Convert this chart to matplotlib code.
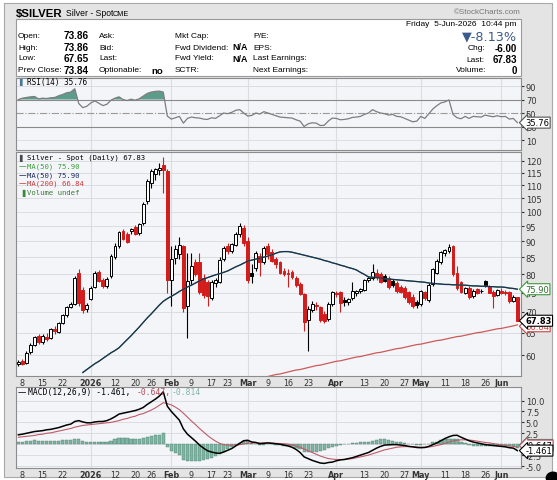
import numpy as np
import pandas as pd
import matplotlib
matplotlib.use("Agg")
import matplotlib.pyplot as plt
from matplotlib.patches import Rectangle
from matplotlib.ticker import NullLocator

## Données
holidays = ["2025-12-25", "2026-01-01", "2026-01-19", "2026-02-16", "2026-04-03", "2026-05-25"]
days = pd.bdate_range("2025-12-05", "2026-06-05")
days = days[~days.isin(pd.to_datetime(holidays))]

opens = [58.2, 58.8, 58.3, 60.6, 62.3, 64.2, 62.9, 64.0, 63.8, 65.8, 65.2, 67.3, 69.2, 71.2, 72.0, 80.5, 75.6, 70.8,
         73.4, 76.6, 80.7, 78.3, 76.9, 79.5, 85.0, 88.6, 93.2, 92.3, 93.5, 94.7, 92.6, 96.0, 104.0, 111.0, 114.5, 116.0,
         118.0, 115.5, 78.5, 84.8, 86.0, 88.5, 71.5, 78.3, 83.5, 83.5, 79.0, 77.8, 73.6, 77.6, 78.0, 84.5, 88.5, 87.0,
         89.0, 92.5, 94.5, 90.0, 80.5, 82.0, 85.5, 83.5, 88.5, 86.5, 84.5, 83.5, 81.0, 80.5, 80.6, 79.0, 77.2, 74.5,
         68.0, 70.5, 71.8, 71.2, 69.5, 68.2, 72.0, 74.8, 75.0, 73.0, 72.6, 73.5, 75.0, 75.4, 75.8, 78.3, 79.0, 80.5,
         80.0, 79.5, 79.0, 78.2, 77.5, 76.5, 76.2, 75.0, 73.8, 72.5, 72.0, 75.0, 73.0, 77.2, 80.5, 83.5, 86.5, 87.0,
         88.5, 80.5, 77.8, 75.0, 76.2, 74.0, 75.8, 75.5, 78.0, 76.8, 75.0, 74.3, 75.5, 75.2, 75.0, 72.9, 73.86]
highs = [59.0, 59.2, 60.8, 62.6, 64.3, 64.8, 64.6, 65.0, 66.2, 66.5, 67.5, 69.5, 71.5, 72.4, 79.5, 81.5, 76.5, 72.3,
         76.8, 81.0, 81.2, 78.9, 79.2, 86.0, 89.5, 93.5, 94.0, 93.0, 94.5, 95.5, 96.0, 103.5, 112.5, 116.5, 117.0, 119.0,
         121.7, 116.5, 88.5, 89.0, 91.5, 89.0, 86.5, 86.5, 84.5, 86.5, 80.0, 78.5, 78.5, 79.0, 85.0, 88.5, 89.5, 89.5,
         93.0, 96.0, 95.5, 91.5, 83.0, 87.0, 86.5, 88.5, 89.5, 87.5, 85.0, 84.0, 82.0, 81.5, 81.2, 79.5, 78.0, 75.0,
         71.5, 72.8, 72.5, 71.6, 70.2, 72.5, 75.5, 75.5, 75.5, 73.8, 73.6, 78.0, 75.8, 76.2, 78.8, 79.5, 83.0, 81.5,
         80.8, 80.0, 79.5, 78.8, 78.2, 77.0, 76.8, 75.5, 74.5, 73.0, 75.8, 75.5, 77.5, 82.0, 84.5, 87.0, 87.5, 89.3,
         89.0, 82.5, 78.2, 76.6, 76.8, 76.0, 76.2, 76.0, 78.4, 77.0, 75.6, 76.0, 76.2, 75.6, 75.3, 74.3, 73.86]
lows = [57.8, 57.9, 58.1, 60.2, 62.0, 62.4, 62.5, 63.2, 63.5, 64.8, 65.0, 67.0, 68.8, 70.9, 71.8, 71.5, 69.8, 70.0,
        73.0, 76.2, 77.8, 76.2, 76.3, 79.0, 84.6, 88.0, 90.4, 89.5, 92.5, 92.0, 92.0, 95.5, 103.0, 109.0, 112.0, 114.0,
        107.0, 75.0, 71.5, 83.0, 84.5, 70.0, 63.8, 77.0, 79.5, 74.5, 73.5, 71.5, 73.0, 76.5, 77.5, 84.0, 86.0, 86.5,
        88.5, 91.5, 88.5, 77.5, 77.5, 81.0, 79.7, 83.0, 84.5, 83.5, 82.0, 80.0, 79.5, 76.5, 78.8, 76.5, 74.3, 65.5,
        61.0, 70.0, 70.5, 67.5, 67.2, 67.8, 71.5, 73.8, 70.0, 71.5, 71.8, 73.0, 74.2, 74.8, 75.5, 77.8, 78.5, 78.5,
        77.5, 77.8, 76.0, 76.5, 75.0, 74.8, 73.2, 72.0, 71.0, 71.0, 71.6, 73.0, 72.5, 76.8, 80.0, 83.0, 85.5, 86.5,
        79.5, 75.8, 74.8, 74.5, 73.3, 73.5, 74.6, 74.8, 76.6, 74.8, 71.0, 74.0, 74.6, 74.3, 72.3, 72.6, 67.65]
closes = [58.6, 58.2, 60.5, 62.2, 63.9, 62.9, 64.3, 63.6, 65.9, 65.3, 67.2, 69.1, 71.1, 71.9, 79.0, 72.2, 70.5, 71.8,
          76.3, 80.5, 78.2, 76.8, 78.8, 85.5, 88.6, 93.0, 90.8, 89.9, 94.0, 92.4, 95.8, 102.8, 111.7, 115.7, 116.5, 117.0,
          116.0, 78.5, 84.5, 87.5, 88.8, 71.0, 78.0, 82.5, 80.2, 75.2, 74.3, 74.0, 77.8, 78.4, 84.2, 87.8, 87.0, 89.0,
          92.5, 95.0, 89.5, 78.5, 79.5, 86.3, 83.5, 87.8, 86.0, 84.0, 83.0, 80.5, 80.2, 80.0, 79.2, 77.0, 74.6, 67.6,
          70.8, 71.9, 71.5, 67.9, 67.8, 72.0, 75.0, 74.6, 72.3, 72.6, 73.2, 75.3, 75.4, 75.8, 78.4, 79.0, 80.7, 79.2,
          77.8, 78.2, 76.5, 77.0, 75.4, 75.2, 73.8, 72.5, 71.5, 71.8, 75.4, 73.6, 77.0, 81.5, 84.0, 86.5, 87.2, 88.3,
          80.0, 76.2, 75.2, 76.3, 73.8, 75.5, 75.0, 75.3, 77.0, 75.0, 74.2, 75.6, 75.0, 74.8, 72.8, 73.84, 67.83]

ma50_start = 16
ma50 = [56.4, 57.0, 57.6, 58.2, 58.7, 59.3, 59.9, 60.5, 61.0, 61.6, 62.5, 63.4, 64.3, 65.3, 66.3, 67.4, 68.5, 69.5,
        70.6, 71.7, 72.7, 73.4, 74.0, 74.6, 75.3, 75.9, 76.5, 77.0, 77.6, 78.2, 78.7, 79.1, 79.5, 79.9, 80.2, 80.6,
        81.0, 81.6, 82.2, 82.7, 83.3, 83.9, 84.2, 84.5, 84.8, 85.1, 85.4, 85.8, 86.3, 86.7, 86.8, 86.8, 86.6, 86.3,
        86.0, 85.7, 85.4, 85.1, 84.8, 84.5, 84.1, 83.8, 83.4, 83.1, 82.7, 82.4, 82.0, 81.7, 81.3, 80.6, 80.0, 79.3,
        79.2, 79.1, 79.0, 78.8, 78.7, 78.6, 78.5, 78.4, 78.3, 78.2, 78.1, 78.0, 77.9, 77.8, 77.6, 77.5, 77.4, 77.3,
        77.2, 77.2, 77.1, 77.1, 77.0, 77.0, 76.9, 76.8, 76.8, 76.7, 76.7, 76.6, 76.6, 76.5, 76.5, 76.4, 76.2, 76.1, 75.9]
ma200_start = 62
ma200 = [55.6, 55.8, 56.0, 56.1, 56.3, 56.5, 56.7, 56.9, 57.0, 57.2, 57.4, 57.6, 57.8, 57.9, 58.1, 58.3, 58.5, 58.7,
         58.8, 59.0, 59.2, 59.4, 59.6, 59.7, 59.9, 60.1, 60.3, 60.5, 60.6, 60.8, 61.0, 61.2, 61.4, 61.5, 61.7, 61.9,
         62.1, 62.3, 62.4, 62.6, 62.8, 63.0, 63.2, 63.3, 63.5, 63.7, 63.9, 64.1, 64.2, 64.4, 64.6, 64.8, 65.0, 65.1,
         65.3, 65.5, 65.7, 65.9, 66.0, 66.2, 66.4, 66.6, 66.84]

rsi = [70, 72, 73, 74, 74.5, 71, 72, 71.5, 72.5, 73, 75.5, 77.5, 80, 81, 86, 64, 58, 60, 65, 68, 64.5, 61, 63, 69,
       72, 74, 70, 68.5, 70.5, 69, 71, 75, 79, 81, 82, 82.5, 81, 45.5, 41, 43, 45, 35, 42, 44, 43, 42.5, 41, 40.5,
       43, 42, 46, 50, 49, 51, 54, 55, 50, 45.5, 46.5, 50, 48.5, 52, 50, 48, 46, 44, 43.5, 43, 42.5, 40, 38, 30,
       34, 35.5, 35, 31.5, 31.8, 38, 42.5, 42, 40, 40.5, 41.5, 43.5, 44, 45, 48, 50, 55, 52, 50, 49, 47, 48, 45,
       44.5, 42, 39.5, 37, 38, 45, 42, 49, 56, 61, 65, 66.5, 69.5, 48, 43, 41.5, 45, 42, 45, 44.5, 44, 47, 45.5,
       44.5, 46, 44.5, 45, 41, 42, 35.76]

macd = [2.15, 2.3, 2.5, 2.7, 2.9, 3.0, 3.1, 3.3, 3.4, 3.6, 3.8, 4.1, 4.4, 4.6, 5.2, 5.4, 5.1, 4.9, 4.9, 5.1, 5.2,
        5.2, 5.4, 5.8, 6.3, 6.9, 7.1, 7.3, 7.5, 7.7, 8.0, 8.4, 9.1, 9.7, 10.3, 11.0, 12.0, 8.7, 7.5, 6.5, 5.5, 3.5,
        2.3, 1.5, 0.7, -0.2, -0.9, -1.5, -1.8, -2.0, -2.1, -1.8, -1.4, -1.0, -0.4, 0.2, 0.8, 0.9, 0.5, 0.4, 0.1,
        0.2, 0.3, 0.2, 0.1, 0.0, -0.2, -0.4, -0.7, -1.2, -1.9, -2.9, -3.3, -3.7, -4.0, -4.3, -4.4, -4.2, -4.1,
        -3.8, -3.6, -3.5, -3.3, -3.1, -2.8, -2.5, -2.2, -1.9, -1.4, -0.9, -0.5, -0.2, -0.15, -0.1, -0.1, -0.2,
        -0.3, -0.5, -0.6, -0.75, -0.8, -0.75, -0.5, -0.1, 0.3, 0.8, 1.3, 1.7, 2.0, 2.05, 1.6, 1.2, 0.8, 0.5, 0.3,
        0.1, -0.1, -0.2, -0.3, -0.4, -0.5, -0.6, -0.8, -0.9, -1.461]
signal = [1.6, 1.7, 1.8, 1.9, 2.0, 2.2, 2.3, 2.5, 2.6, 2.8, 3.0, 3.2, 3.4, 3.6, 3.9, 4.1, 4.3, 4.4, 4.5, 4.6, 4.7,
          4.8, 4.9, 5.0, 5.2, 5.4, 5.7, 5.9, 6.2, 6.4, 6.8, 7.0, 7.4, 7.8, 8.3, 8.9, 9.5, 9.3, 9.0, 8.5, 7.9, 7.1,
          6.2, 5.3, 4.5, 3.6, 2.8, 2.0, 1.3, 0.7, 0.2, -0.1, -0.2, -0.25, -0.2, -0.1, 0.05, 0.2, 0.25, 0.3, 0.3,
          0.3, 0.3, 0.25, 0.2, 0.15, 0.1, 0.0, -0.2, -0.4, -0.7, -1.1, -1.5, -1.9, -2.3, -2.7, -3.0, -3.3, -3.4,
          -3.5, -3.5, -3.5, -3.4, -3.3, -3.1, -2.9, -2.7, -2.5, -2.2, -1.9, -1.6, -1.3, -1.1, -0.9, -0.7, -0.6,
          -0.55, -0.55, -0.6, -0.65, -0.7, -0.7, -0.65, -0.5, -0.3, -0.1, 0.2, 0.5, 0.75, 0.9, 1.0, 1.0, 0.95,
          0.85, 0.7, 0.55, 0.4, 0.3, 0.15, 0.0, -0.15, -0.3, -0.4, -0.5, -0.647]

tick_dates = ["2025-12-08", "2025-12-15", "2025-12-22", "2026-01-02", "2026-01-12", "2026-01-20", "2026-01-26",
              "2026-02-02", "2026-02-09", "2026-02-17", "2026-02-23", "2026-03-02", "2026-03-09", "2026-03-16",
              "2026-03-23", "2026-04-01", "2026-04-13", "2026-04-20", "2026-04-27", "2026-05-01", "2026-05-11",
              "2026-05-18", "2026-05-26", "2026-06-01"]
tick_labels = ["8", "15", "22", "2026", "12", "20", "26", "Feb", "9", "17", "23", "Mar", "9", "16", "23", "Apr",
               "13", "20", "27", "May", "11", "18", "26", "Jun"]
month_labels = ["2026", "Feb", "Mar", "Apr", "May", "Jun"]

## Préparation
n = len(days)
x = np.arange(n)
o = np.array(opens); h = np.array(highs); l = np.array(lows); c = np.array(closes)
macd_a = np.array(macd); sig_a = np.array(signal)
hist = macd_a - sig_a
tick_pos = [days.get_loc(pd.Timestamp(d)) for d in tick_dates]
month_pos = [p for p, t in zip(tick_pos, tick_labels) if t in month_labels]

W, H = 557, 481
def fx(px): return px / W
def fy(py): return 1 - py / H

fig = plt.figure(figsize=(W / 100, H / 100), dpi=100)
fig.patch.set_facecolor("white")

## Cadre gris
fig.add_artist(Rectangle((fx(4), fy(478)), fx(548), (478 - 4) / H, transform=fig.transFigure,
                         fc="#e4e4e4", ec="#a8a8a8", lw=0.8, zorder=0))
fig.add_artist(Rectangle((fx(16), fy(77)), fx(505), (77 - 20) / H, transform=fig.transFigure,
                         fc="white", ec="#9a9a9a", lw=0.8, zorder=1))

hdr = "Liberation Sans"
fs_lab = 6.0
fig.text(fx(16), fy(14), "$SILVER", fontsize=8.2, fontweight="bold", family=hdr, va="center")
fig.text(fx(66), fy(14), "Silver - Spot", fontsize=6.2, family=hdr, va="center")
fig.text(fx(113), fy(14.5), "CME", fontsize=5.2, family=hdr, va="center")
fig.text(fx(521), fy(13), "\u00a9StockCharts.com", fontsize=5.8, family=hdr, va="center", ha="right",
         color="#777777")

rows = [36, 48, 59, 71]
for yy, lab, val in zip(rows, ["Open:", "High:", "Low:", "Prev Close:"], ["73.86", "73.86", "67.65", "73.84"]):
    fig.text(fx(18), fy(yy), lab, fontsize=fs_lab, family=hdr, va="center")
    fig.text(fx(89), fy(yy), val, fontsize=7.2, family=hdr, va="center", ha="right", fontweight="bold")
for yy, lab in zip(rows, ["Ask:", "Bid:", "Last:", "Optionable:"]):
    fig.text(fx(99), fy(yy), lab, fontsize=fs_lab, family=hdr, va="center")
fig.text(fx(163), fy(72), "no", fontsize=6.8, family=hdr, va="center", ha="right", fontweight="bold")
for yy, lab in zip(rows, ["Mkt Cap:", "Fwd Dividend:", "Fwd Yield:", "SCTR:"]):
    fig.text(fx(175), fy(yy), lab, fontsize=fs_lab, family=hdr, va="center")
for yy in [48, 59]:
    fig.text(fx(248), fy(yy), "N/A", fontsize=6.4, family=hdr, va="center", ha="right", fontweight="bold")
for yy, lab in zip(rows, ["P/E:", "EPS:", "Last Earnings:", "Next Earnings:"]):
    fig.text(fx(253), fy(yy), lab, fontsize=fs_lab, family=hdr, va="center")

fig.text(fx(517), fy(25), "Friday  5-Jun-2026  10:44 pm", fontsize=fs_lab, family=hdr, va="center", ha="right")
fig.text(fx(517), fy(37), "\u25bc-8.13%", fontsize=9.2, family="DejaVu Sans", va="center", ha="right",
         color="#3b5a8c")
fig.text(fx(517), fy(49), "-6.00", fontsize=7, family=hdr, va="center", ha="right", fontweight="bold")
fig.text(fx(468), fy(49), "Chg:", fontsize=fs_lab, family=hdr, va="center")
fig.text(fx(517), fy(60), "67.83", fontsize=7, family=hdr, va="center", ha="right", fontweight="bold")
fig.text(fx(466), fy(60), "Last:", fontsize=fs_lab, family=hdr, va="center")
fig.text(fx(517), fy(71), "0", fontsize=7, family=hdr, va="center", ha="right", fontweight="bold")
fig.text(fx(456), fy(71), "Volume:", fontsize=fs_lab, family=hdr, va="center")

## Axes
rsi_t, rsi_b = 79, 151
px_t, px_b = 153, 377
m_t, m_b = 388, 469
left, width = fx(16), fx(505)
ax_rsi = fig.add_axes([left, fy(rsi_b), width, (rsi_b - rsi_t) / H])
ax_px = fig.add_axes([left, fy(px_b), width, (px_b - px_t) / H])
ax_m = fig.add_axes([left, fy(m_b), width, (m_b - m_t) / H])

panel_bg = "#f4f5f8"
grid_c = "#dcdde3"
mono = "DejaVu Sans Mono"
for ax in (ax_rsi, ax_px, ax_m):
    ax.set_facecolor(panel_bg)
    ax.set_xlim(-0.6, n - 0.1)
    for s in ax.spines.values():
        s.set_color("#8c8c8c"); s.set_linewidth(0.8)
    ax.yaxis.tick_right()
    ax.tick_params(axis="y", labelsize=6, length=2, pad=1.5, colors="#333333")
    for p in month_pos:
        ax.axvline(p, color=grid_c, lw=0.8, zorder=0)

def ypos(ax_top, ax_bot, py):
    return 1 - (py - ax_top) / (ax_bot - ax_top)

## RSI
ax_rsi.set_ylim(-4.8, 101.9)
ax_rsi.set_yticks([10, 30, 50, 70, 90])
for lv in (10, 90):
    ax_rsi.axhline(lv, color=grid_c, lw=0.7, zorder=0)
ax_rsi.axhline(70, color="#8a8a8a", lw=0.8)
ax_rsi.axhline(30, color="#8a8a8a", lw=0.8)
ax_rsi.axhline(50, color="#9a9a9a", lw=0.8, ls="-.")
r = np.array(rsi)
ax_rsi.fill_between(x, r, 70, where=r > 70, interpolate=True, color="#5e9c8a", lw=0)
ax_rsi.plot(x, r, color="#7d7d7d", lw=0.9)
ax_rsi.set_xticks([])
yl = ypos(rsi_t, rsi_b, 82)
ax_rsi.text(0.007, yl, "\u258c", transform=ax_rsi.transAxes, fontsize=5, color="#4a7a9a", va="center")
ax_rsi.text(0.022, yl, "RSI(14) 35.76", transform=ax_rsi.transAxes, fontsize=5.6, family=mono, va="center")

def tag(ax, yv, text, ec, tc="black", weight="normal", dy=0):
    ax.annotate(text, xy=(1.0, yv), xycoords=("axes fraction", "data"), xytext=(3, dy),
                textcoords="offset points", va="center", ha="left", fontsize=6, color=tc, fontweight=weight,
                bbox=dict(boxstyle="larrow,pad=0.12", fc="white", ec=ec, lw=0.8), annotation_clip=False, zorder=5)

tag(ax_rsi, r[-1], "35.76", "#555555")

## Prix
ax_px.set_yscale("log")
ax_px.set_ylim(55.7, 123.8)
yt = list(range(60, 125, 5))
ax_px.yaxis.set_minor_locator(NullLocator())
ax_px.set_yticks(yt)
ax_px.set_yticklabels([str(v) for v in yt])
for v in yt:
    ax_px.axhline(v, color=grid_c, lw=0.7, zorder=0)

prev = np.concatenate([[o[0]], c[:-1]])
col = np.where(c >= prev, "black", "#d41c1c")
filled = c < o
ax_px.vlines(x, l, h, colors=col, lw=0.8, zorder=2)
face = np.where(filled, col, "white")
ax_px.bar(x, np.abs(c - o) + 0.05, bottom=np.minimum(o, c), width=0.72, color=face, edgecolor=col,
          lw=0.7, zorder=3)

ax_px.plot(x[ma50_start:], ma50, color="#3aa03a", lw=0.9, zorder=4)
ax_px.plot(x[ma50_start:], ma50, color="#1e2b5c", lw=0.9, zorder=4)
ax_px.plot(x[ma200_start:], ma200, color="#cc5a5a", lw=0.9, zorder=4)

leg_px = [158, 167, 175.5, 184, 193]
leg_y = [ypos(px_t, px_b, v) for v in leg_px]
ax_px.text(0.007, leg_y[0], "\u258c", transform=ax_px.transAxes, fontsize=5, color="#4a4a4a", va="center")
ax_px.text(0.022, leg_y[0], "Silver - Spot (Daily) 67.83", transform=ax_px.transAxes, fontsize=5.2,
           family=mono, va="center")
for yy, txt, cc in zip(leg_y[1:4], ["MA(50) 75.90", "MA(50) 75.90", "MA(200) 66.84"],
                       ["#3aa03a", "#1e2b5c", "#cc3b3b"]):
    ax_px.text(0.006, yy, "\u2014", transform=ax_px.transAxes, fontsize=5.5, color=cc, va="center")
    ax_px.text(0.022, yy, txt, transform=ax_px.transAxes, fontsize=5.2, family=mono, color=cc, va="center")
ax_px.text(0.007, leg_y[4], "\u2590", transform=ax_px.transAxes, fontsize=5, color="#3a8a3a", va="center")
ax_px.text(0.022, leg_y[4], "Volume undef", transform=ax_px.transAxes, fontsize=5.2, family=mono,
           color="#3a7a3a", va="center")

tag(ax_px, ma50[-1], "75.90", "#3a9a3a", tc="#2a6a2a")
tag(ax_px, ma200[-1], "66.84", "#cc4444", tc="#cc4444", dy=-1)
tag(ax_px, c[-1], "67.83", "black", weight="bold")

## MACD
ax_m.set_ylim(-5.45, 13.1)
mt = [-5.0, -2.5, 0.0, 2.5, 5.0, 7.5, 10.0]
ax_m.set_yticks(mt)
ax_m.set_yticklabels(["%.1f" % v for v in mt])
for v in mt:
    ax_m.axhline(v, color=grid_c, lw=0.7, zorder=0)
ax_m.bar(x, hist, width=0.8, color="#7fb5a2", edgecolor="#4d8070", lw=0.3, zorder=2)
ax_m.plot(x, sig_a, color="#c05a6a", lw=0.8, zorder=3)
ax_m.plot(x, macd_a, color="black", lw=1.1, zorder=4)
ym = ypos(m_t, m_b, 392.5)
def axfx(px): return (px - 16) / 505
ax_m.text(axfx(18), ym, "\u2014", transform=ax_m.transAxes, fontsize=6, color="black", va="center")
ax_m.text(axfx(28), ym, "MACD(12,26,9) -1.461,", transform=ax_m.transAxes, fontsize=5.8, family=mono,
          va="center", zorder=6)
ax_m.text(axfx(137), ym, "-0.647,", transform=ax_m.transAxes, fontsize=5.8, family=mono, color="#b04a5a",
          va="center", zorder=6)
ax_m.text(axfx(172), ym, "-0.814", transform=ax_m.transAxes, fontsize=5.8, family=mono, color="#7fb5a2",
          va="center", zorder=6)
tag(ax_m, hist[-1], "-0.814", "#4d8070", dy=2)
tag(ax_m, sig_a[-1], "-0.647", "#c05a6a", dy=1)
tag(ax_m, macd_a[-1], "-1.461", "black")

## Axe des dates
for ax in (ax_px, ax_m):
    ax.set_xticks(tick_pos)
    ax.set_xticklabels(tick_labels)
    ax.tick_params(axis="x", length=0, labelsize=5.8, pad=1.5, colors="#333333")
    for lab in ax.get_xticklabels():
        if lab.get_text() in month_labels:
            lab.set_fontweight("bold")

fig.add_artist(plt.Circle((fx(553), fy(479)), 0.012, transform=fig.transFigure, color="black", zorder=10))

plt.savefig("out.png", dpi=100, facecolor=fig.get_facecolor())
